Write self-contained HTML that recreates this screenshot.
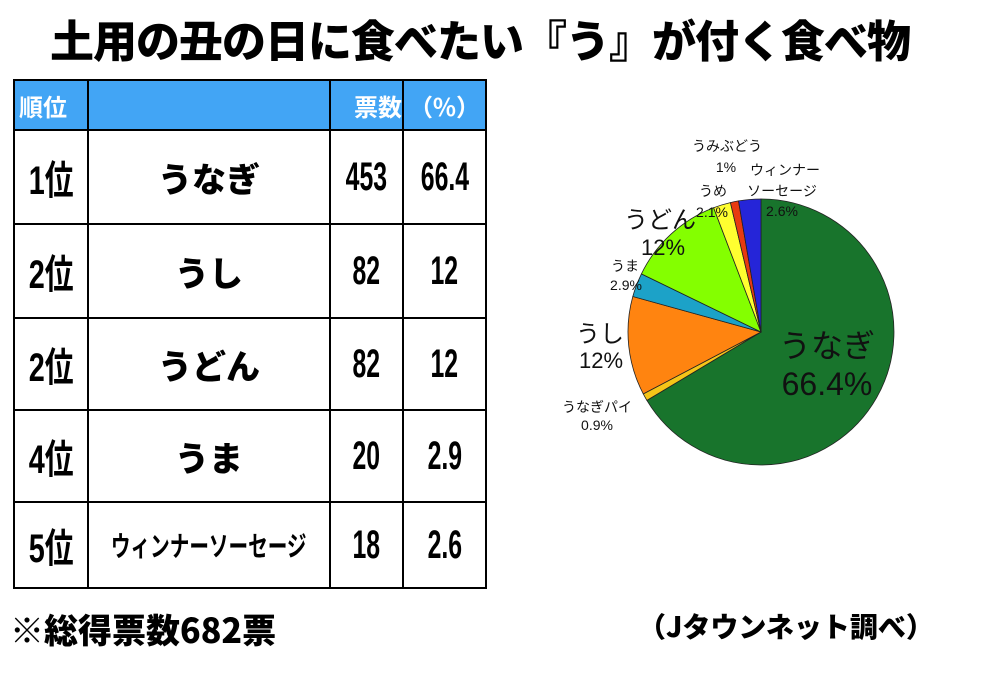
<!DOCTYPE html>
<html><head><meta charset="utf-8"><style>
body{margin:0;width:1000px;height:675px;background:#fff;position:relative;overflow:hidden;font-family:"Liberation Sans","Noto Sans CJK JP",sans-serif}
.t{position:absolute;white-space:nowrap;font-weight:bold;color:#000}
table{position:absolute;left:13px;top:79px;border-collapse:collapse;table-layout:fixed;width:472px}
td{border:2.5px solid #000;padding:0;text-align:center;font-weight:bold;font-family:"Liberation Sans","Noto Sans CJK JP",sans-serif;overflow:visible;white-space:nowrap}
th{border:2.5px solid #000;background:#42a5f5;color:#fff;font-weight:bold;font-size:24px;height:48px;padding:0;font-family:"Noto Sans CJK JP",sans-serif;white-space:nowrap}
.c{display:inline-block;transform:scaleX(0.72);font-size:40px}
.n{display:inline-block;transform:scaleX(0.62);font-size:40px;font-family:"Liberation Sans",sans-serif}
.j{font-size:34px;font-family:"Noto Sans CJK JP",sans-serif;font-weight:900}
</style></head><body>
<div class="t" style="left:50px;top:6px;font-size:44px;font-family:'Noto Sans CJK JP',sans-serif;font-weight:900;letter-spacing:-1px">土用の丑の日に食べたい『う』が付く食べ物</div>
<table>
<colgroup><col style="width:74px"><col style="width:242px"><col style="width:73px"><col style="width:83px"></colgroup>
<tr><th style="text-align:left;padding-left:4px">順位</th><th></th><th style="text-align:right">票数</th><th>（%）</th></tr>
<tr style="height:94px"><td><span class="c">1位</span></td><td class="j">うなぎ</td><td><span class="n">453</span></td><td><span class="n">66.4</span></td></tr>
<tr style="height:94px"><td><span class="c">2位</span></td><td class="j">うし</td><td><span class="n">82</span></td><td><span class="n">12</span></td></tr>
<tr style="height:92px"><td><span class="c">2位</span></td><td class="j">うどん</td><td><span class="n">82</span></td><td><span class="n">12</span></td></tr>
<tr style="height:92px"><td><span class="c">4位</span></td><td class="j">うま</td><td><span class="n">20</span></td><td><span class="n">2.9</span></td></tr>
<tr style="height:86px"><td><span class="c">5位</span></td><td><span style="display:inline-block;transform:scaleX(0.7);font-size:28px;font-family:'Noto Sans CJK JP',sans-serif;margin-left:-60px;margin-right:-60px">ウィンナーソーセージ</span></td><td><span class="n">18</span></td><td><span class="n">2.6</span></td></tr>
</table>
<div class="t" style="left:10px;top:604px;font-size:34px;font-family:'Noto Sans CJK JP',sans-serif;font-weight:900">※総得票数682票</div>
<div class="t" style="left:638px;top:606px;font-size:28px;font-family:'Noto Sans CJK JP',sans-serif;font-weight:900">（Jタウンネット調べ）</div>
<svg width="1000" height="675" style="position:absolute;left:0;top:0" font-family="Liberation Sans, Noto Sans CJK JP, sans-serif">
<g stroke="#222" stroke-width="0.8">
<path d="M761,332 L761,199 A133,133 0 1,1 646.9,400.4 Z" fill="#18742c"/>
<path d="M761,332 L646.9,400.4 A133,133 0 0,1 643.3,393.9 Z" fill="#f5c518"/>
<path d="M761,332 L643.3,393.9 A133,133 0 0,1 632.8,296.5 Z" fill="#ff8410"/>
<path d="M761,332 L632.8,296.5 A133,133 0 0,1 641.4,273.9 Z" fill="#1ca2c8"/>
<path d="M761,332 L641.4,273.9 A133,133 0 0,1 713.6,207.7 Z" fill="#84ff00"/>
<path d="M761,332 L713.6,207.7 A133,133 0 0,1 730.4,202.6 Z" fill="#ffff30"/>
<path d="M761,332 L730.4,202.6 A133,133 0 0,1 738.5,200.9 Z" fill="#e83a10"/>
<path d="M761,332 L738.5,200.9 A133,133 0 0,1 761,199 Z" fill="#2525d8"/>
</g>
<g fill="#111" text-anchor="middle">
<text x="827" y="357" font-size="32">うなぎ</text>
<text x="827" y="395" font-size="32">66.4%</text>
<text x="600" y="342" font-size="24">うし</text>
<text x="601" y="368" font-size="22">12%</text>
<text x="660" y="228" font-size="24">うどん</text>
<text x="663" y="255" font-size="22">12%</text>
<text x="625" y="271" font-size="14">うま</text>
<text x="626" y="290" font-size="14">2.9%</text>
<text x="597" y="412" font-size="14">うなぎパイ</text>
<text x="597" y="430" font-size="14">0.9%</text>
<text x="713" y="196" font-size="14">うめ</text>
<text x="712" y="217" font-size="14">2.1%</text>
<text x="727" y="151" font-size="14">うみぶどう</text>
<text x="726" y="172" font-size="14">1%</text>
<text x="785" y="175" font-size="14">ウィンナー</text>
<text x="782" y="196" font-size="14">ソーセージ</text>
<text x="782" y="216" font-size="14">2.6%</text>
</g>
</svg>
</body></html>
